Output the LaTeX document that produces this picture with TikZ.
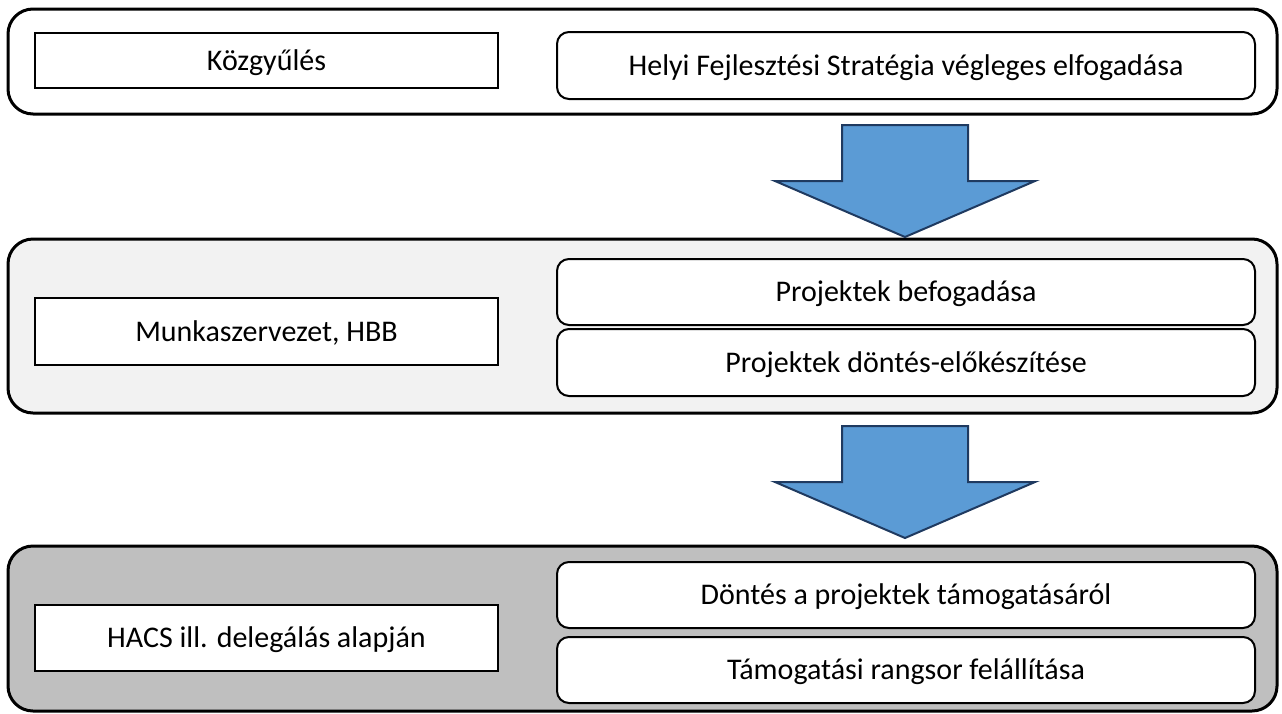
\documentclass[tikz,border=0pt]{standalone}
\usepackage{fontspec}
\setmainfont{Carlito}
\definecolor{arrowblue}{HTML}{5B9BD5}
\definecolor{arrowline}{HTML}{1F3A60}
\definecolor{lightpanel}{HTML}{F2F2F2}
\definecolor{darkpanel}{HTML}{BFBFBF}
\begin{document}
\begin{tikzpicture}[x=1pt, y=-1pt,
    every node/.style={inner sep=0pt, font=\fontsize{30}{36}\selectfont, text height=22pt, text depth=3pt},
    panel/.style={draw, line width=3pt, rounded corners=25pt, minimum width=1269pt},
    rolebox/.style={draw, fill=white, line width=1.6pt, minimum width=463pt},
    taskbox/.style={draw, fill=white, line width=2pt, rounded corners=12pt, minimum width=698pt},
    blockarrow/.style={fill=arrowblue, draw=arrowline, line width=2pt, line join=miter}]
        \useasboundingbox (0,0) rectangle (1282,713);

        % Panels (3 stages)
        \node[panel, fill=white, minimum height=105pt] (stage1) at (642.5,61.5) {};
        \node[panel, fill=lightpanel, minimum height=174pt] (stage2) at (642.5,326) {};
        \node[panel, fill=darkpanel, minimum height=165pt] (stage3) at (642.5,628.5) {};

        % Arrows between the stages
        \foreach \ytop in {125,426}
            \draw[blockarrow] (842,\ytop) -- (968,\ytop) -- (968,\ytop+56) -- (1035,\ytop+56)
                -- (905,\ytop+112) -- (775,\ytop+56) -- (842,\ytop+56) -- cycle;

        % Left column (who decides)
        \node[rolebox, minimum height=55pt] (kozgy) at (266.5,60.5) {Közgyűlés};
        \node[rolebox, minimum height=67pt] (munka) at (266.5,331.5) {Munkaszervezet, HBB};
        \node[rolebox, minimum height=66pt] (hacs) at (266.5,638) {HACS ill. delegálás alapján};

        % Right column (tasks)
        \node[taskbox, minimum height=67pt] (hfs) at (906,65.5) {Helyi Fejlesztési Stratégia végleges elfogadása};
        \node[taskbox, minimum height=66pt] (befog) at (906,292) {Projektek befogadása};
        \node[taskbox, minimum height=67pt] (elokesz) at (906,362.5) {Projektek döntés-előkészítése};
        \node[taskbox, minimum height=66pt] (dontes) at (906,595) {Döntés a projektek támogatásáról};
        \node[taskbox, minimum height=66pt] (rangsor) at (906,670) {Támogatási rangsor felállítása};
    \end{tikzpicture}
\end{document}
